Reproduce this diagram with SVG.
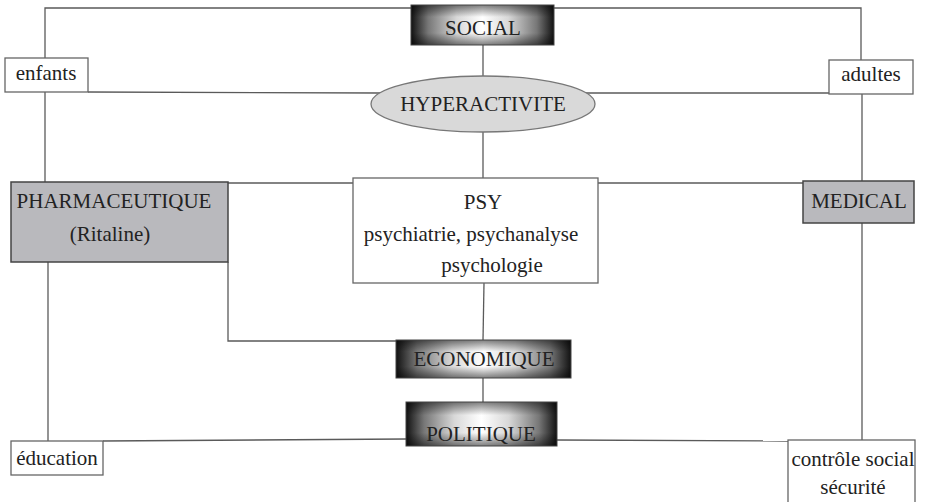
<svg xmlns="http://www.w3.org/2000/svg" width="926" height="502" viewBox="0 0 926 502">
<defs>
<linearGradient id="hshade" x1="0" y1="0" x2="1" y2="0">
<stop offset="0" stop-color="#111111"/>
<stop offset="0.12" stop-color="#777777"/>
<stop offset="0.32" stop-color="#d8d8d8"/>
<stop offset="0.5" stop-color="#ffffff"/>
<stop offset="0.68" stop-color="#d8d8d8"/>
<stop offset="0.88" stop-color="#777777"/>
<stop offset="1" stop-color="#111111"/>
</linearGradient>
<linearGradient id="vshade" x1="0" y1="0" x2="0" y2="1">
<stop offset="0" stop-color="#000000" stop-opacity="0.5"/>
<stop offset="0.3" stop-color="#000000" stop-opacity="0"/>
<stop offset="0.7" stop-color="#000000" stop-opacity="0"/>
<stop offset="1" stop-color="#000000" stop-opacity="0.5"/>
</linearGradient>
</defs>
<style>
text{font-family:"Liberation Serif","DejaVu Serif",serif;font-size:21px;fill:#222;text-anchor:middle}
.wbox{fill:#fff;stroke:#666;stroke-width:1.3}
.gbox{fill:#b9b9bd;stroke:#444;stroke-width:1.5}
.sh{fill:url(#hshade);stroke:none}
.sv{fill:url(#vshade);stroke:#444;stroke-width:1}
.c{fill:none;stroke:#5a5a5a;stroke-width:1.3}
</style>
<g id="connectors">
<polyline class="c" points="45,58 45,8 411,8"/>
<polyline class="c" points="554,8 861,8 861,60"/>
<line class="c" x1="483" y1="45" x2="483" y2="76"/>
<line class="c" x1="88" y1="92" x2="380" y2="93"/>
<line class="c" x1="829" y1="93" x2="586" y2="93"/>
<line class="c" x1="45" y1="92" x2="45" y2="182"/>
<line class="c" x1="862" y1="94" x2="862" y2="181"/>
<line class="c" x1="483" y1="132" x2="483" y2="178"/>
<line class="c" x1="228" y1="183" x2="353" y2="183"/>
<line class="c" x1="598" y1="183" x2="803" y2="183"/>
<line class="c" x1="48" y1="262" x2="48" y2="441"/>
<polyline class="c" points="228,262 228,341 396,341"/>
<line class="c" x1="484" y1="283" x2="483" y2="340"/>
<line class="c" x1="483" y1="378" x2="483" y2="402"/>
<line class="c" x1="103" y1="441" x2="406" y2="439"/>
<line class="c" x1="557" y1="440" x2="788" y2="441"/>
<line class="c" x1="862" y1="223" x2="862" y2="440"/>
</g>
<g id="social">
<rect class="sh" x="411" y="5" width="143" height="40"/>
<rect class="sv" x="411" y="5" width="143" height="40"/>
<text x="483" y="35">SOCIAL</text>
</g>
<g id="enfants">
<rect class="wbox" x="5" y="58" width="83" height="34"/>
<text x="46" y="80">enfants</text>
</g>
<g id="adultes">
<rect class="wbox" x="829" y="60" width="84" height="34"/>
<text x="871" y="81">adultes</text>
</g>
<g id="hyperactivite">
<ellipse cx="483" cy="104" rx="112" ry="28" fill="#d9d9d9" stroke="#777" stroke-width="1.3"/>
<text x="483" y="111">HYPERACTIVITE</text>
</g>
<g id="pharmaceutique">
<rect class="gbox" x="11" y="182" width="217" height="80"/>
<text x="114" y="208">PHARMACEUTIQUE</text>
<text x="110" y="241">(Ritaline)</text>
</g>
<g id="psy">
<rect class="wbox" x="353" y="178" width="245" height="105"/>
<text x="483" y="209">PSY</text>
<text x="471" y="241">psychiatrie, psychanalyse</text>
<text x="492" y="272">psychologie</text>
</g>
<g id="medical">
<rect class="gbox" x="803" y="181" width="111" height="42"/>
<text x="859" y="208">MEDICAL</text>
</g>
<g id="economique">
<rect class="sh" x="396" y="340" width="175" height="38"/>
<rect class="sv" x="396" y="340" width="175" height="38"/>
<text x="484" y="366">ECONOMIQUE</text>
</g>
<g id="politique">
<rect class="sh" x="406" y="402" width="151" height="44"/>
<rect class="sv" x="406" y="402" width="151" height="44"/>
<text x="481" y="441">POLITIQUE</text>
</g>
<g id="education">
<rect class="wbox" x="11" y="441" width="92" height="34"/>
<text x="57" y="465">éducation</text>
</g>
<g id="controle">
<rect class="wbox" x="788" y="440" width="127" height="64"/>
<text x="853" y="466">contrôle social</text>
<text x="853" y="494">sécurité</text>
</g>
</svg>
